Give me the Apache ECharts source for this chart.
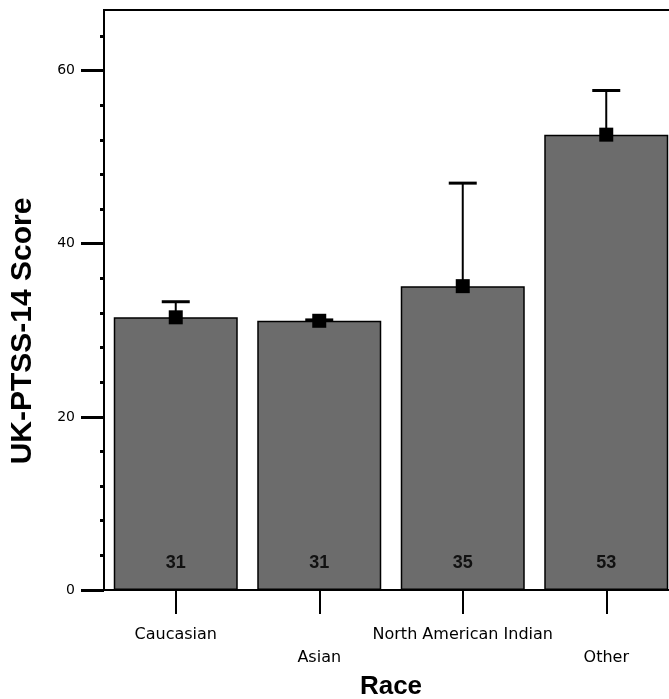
<!DOCTYPE html>
<html>
<head>
<meta charset="utf-8">
<script src="https://cdn.jsdelivr.net/npm/echarts@6/dist/echarts.min.js"></script>
<style>html,body{margin:0;padding:0;background:#fff;}#c{width:669px;height:699px;}</style>
</head>
<body>
<div id="c"></div>
<script>
var categories = ['Caucasian', 'Asian', 'North American Indian', 'Other'];
var means = [31.5, 31.1, 35.1, 52.6];
var upperErr = [33.3, 31.2, 47.0, 57.7];
var barLabels = ['31', '31', '35', '53'];
var majorTicks = [0, 20, 40, 60];
var majorTickLabels = ['0', '20', '40', '60'];
var minorTicks = [4, 8, 12, 16, 24, 28, 32, 36, 44, 48, 52, 56, 64];

var chart = echarts.init(document.getElementById('c'), null, {renderer: 'canvas'});

var errData = categories.map(function (c, i) { return [i, means[i], upperErr[i]]; });

chart.setOption({
  animation: false,
  backgroundColor: '#fff',
  grid: {left: 104, top: 10, width: 574, bottom: 109, show: true, borderColor: '#000', borderWidth: 2, backgroundColor: 'transparent', containLabel: false, outerBoundsMode: 'none'},
  xAxis: {
    type: 'category',
    data: categories,
    boundaryGap: true,
    axisLine: {show: true, lineStyle: {color: '#000', width: 2}},
    axisTick: {show: true, interval: 0, alignWithLabel: true, length: 24, lineStyle: {color: '#000', width: 2}},
    axisLabel: {
      interval: 0, color: '#000', fontFamily: 'DejaVu Sans', fontSize: 16, margin: 33, lineHeight: 23,
      formatter: function (v, i) { return i % 2 === 1 ? '\n' + v : v; }
    },
    name: 'Race', nameLocation: 'middle', nameGap: 82,
    nameTextStyle: {fontFamily: 'Liberation Sans', fontWeight: 'bold', fontSize: 26, color: '#000'}
  },
  yAxis: [{
    type: 'value', min: 0, max: 67,
    splitLine: {show: false},
    axisLine: {show: true, lineStyle: {color: '#000', width: 2}},
    axisTick: {show: true, customValues: majorTicks, length: 23, lineStyle: {color: '#000', width: 3}},
    axisLabel: {customValues: majorTicks, formatter: function (v) { return majorTickLabels[majorTicks.indexOf(v)]; }, color: '#000', fontFamily: 'DejaVu Sans', fontSize: 14, margin: 29}
  }, {
    type: 'value', min: 0, max: 67, position: 'left',
    splitLine: {show: false},
    axisLine: {show: false},
    axisTick: {show: true, customValues: minorTicks, length: 4, lineStyle: {color: '#000', width: 3}},
    axisLabel: {show: false}
  }],
  graphic: [{
    type: 'text', x: 23, y: 331, rotation: Math.PI / 2,
    style: {text: 'UK-PTSS-14 Score', font: 'bold 30px "Liberation Sans"', fill: '#000', textAlign: 'center', textVerticalAlign: 'middle'}
  }],
  series: [{
    type: 'bar', data: means, barWidth: 124, yAxisIndex: 0,
    itemStyle: {color: '#6c6c6c', borderColor: '#000', borderWidth: 1.5},
    label: {show: true, position: 'insideBottom', distance: 18, formatter: function (p) { return barLabels[p.dataIndex]; }, fontFamily: 'Liberation Sans', fontWeight: 'bold', fontSize: 18, color: '#111'}
  }, {
    type: 'custom', data: errData, yAxisIndex: 0, z: 10,
    renderItem: function (params, api) {
      var x = api.value(0);
      var pm = api.coord([x, api.value(1)]);
      var pu = api.coord([x, api.value(2)]);
      return {type: 'group', children: [
        {type: 'line', shape: {x1: pm[0], y1: pm[1], x2: pu[0], y2: pu[1]}, style: {stroke: '#000', lineWidth: 2}},
        {type: 'line', shape: {x1: pu[0] - 14, y1: pu[1], x2: pu[0] + 14, y2: pu[1]}, style: {stroke: '#000', lineWidth: 3}},
        {type: 'rect', shape: {x: pm[0] - 7, y: pm[1] - 7, width: 14, height: 14}, style: {fill: '#000'}}
      ]};
    }
  }]
});
</script>
</body>
</html>
